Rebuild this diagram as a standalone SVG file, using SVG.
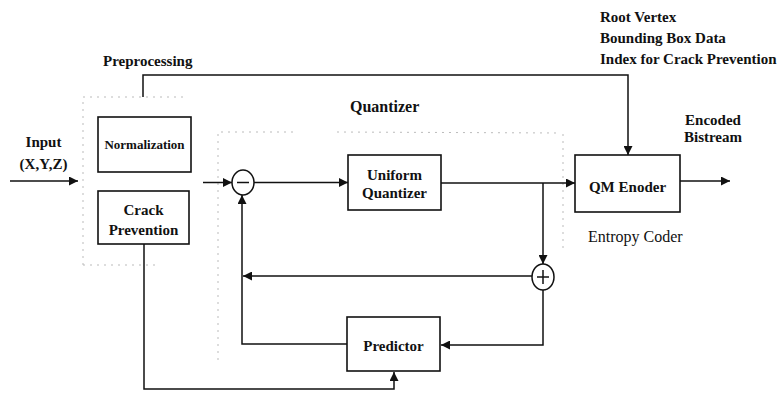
<svg xmlns="http://www.w3.org/2000/svg" width="777" height="404" viewBox="0 0 777 404">
<defs>
<style>
.t{font-family:"Liberation Serif","Times New Roman",serif;font-weight:bold;font-size:15px;fill:#111}
.r{font-weight:normal;font-size:16px}
.box{fill:none;stroke:#111;stroke-width:1.6}
.ln{fill:none;stroke:#111;stroke-width:1.5}
.dot{fill:none;stroke:#bbb;stroke-width:1;stroke-dasharray:2 5}
</style>
<marker id="ah" viewBox="0 0 10 10" refX="10" refY="5" markerWidth="9" markerHeight="9" markerUnits="userSpaceOnUse" orient="auto">
<path d="M0,0 L10,5 L0,10 Z" fill="#111"/>
</marker>
</defs>
<rect width="777" height="404" fill="#fff"/>

<g id="regions">
<path class="dot" d="M83,265 L83,97 L185,97 M83,265 L160,265"/>
<path class="dot" d="M218,360 L218,132 L295,132 M337,132 L560,133 M563,134 L563,250"/>
</g>

<g id="labels">
<text class="t" x="103" y="66">Preprocessing</text>
<text class="t" x="350" y="112" style="font-size:16px">Quantizer</text>
<text class="t" x="43.5" y="147" text-anchor="middle">Input</text>
<text class="t" x="43.5" y="169" text-anchor="middle">(X,Y,Z)</text>
<text class="t" x="600" y="22">Root Vertex</text>
<text class="t" x="600" y="43">Bounding Box Data</text>
<text class="t" x="600" y="64">Index for Crack Prevention</text>
<text class="t" x="713" y="125" text-anchor="middle">Encoded</text>
<text class="t" x="713" y="142" text-anchor="middle">Bistream</text>
<text class="t r" x="588" y="242">Entropy Coder</text>
</g>

<g id="normalization">
<rect class="box" x="98" y="117" width="93" height="55"/>
<text class="t" x="144.5" y="149" text-anchor="middle" style="font-size:13px">Normalization</text>
</g>
<g id="crack-prevention">
<rect class="box" x="98" y="191" width="91" height="53"/>
<text class="t" x="143.5" y="215" text-anchor="middle">Crack</text>
<text class="t" x="143.5" y="235" text-anchor="middle">Prevention</text>
</g>
<g id="minus">
<ellipse class="ln" cx="243" cy="182.5" rx="11" ry="12.5"/>
<line class="ln" x1="237" y1="182.5" x2="249" y2="182.5"/>
</g>
<g id="uniform-quantizer">
<rect class="box" x="348" y="155" width="93" height="55"/>
<text class="t" x="394.5" y="180" text-anchor="middle">Uniform</text>
<text class="t" x="394.5" y="198" text-anchor="middle">Quantizer</text>
</g>
<g id="qm-encoder">
<rect class="box" x="575" y="155" width="105" height="57"/>
<text class="t" x="627.5" y="192" text-anchor="middle">QM Enoder</text>
</g>
<g id="plus">
<ellipse class="ln" cx="543" cy="277" rx="11" ry="13"/>
<line class="ln" x1="537" y1="277" x2="549" y2="277"/>
<line class="ln" x1="543" y1="270" x2="543" y2="284"/>
</g>
<g id="predictor">
<rect class="box" x="347" y="317" width="93" height="54"/>
<text class="t" x="393.5" y="351" text-anchor="middle">Predictor</text>
</g>

<g id="connectors">
<line class="ln" x1="10" y1="181" x2="78" y2="181" marker-end="url(#ah)"/>
<polyline class="ln" points="143,97 143,75 628,75 628,155" marker-end="url(#ah)"/>
<line class="ln" x1="203" y1="182.5" x2="232" y2="182.5" marker-end="url(#ah)"/>
<line class="ln" x1="254" y1="182.5" x2="348" y2="182.5" marker-end="url(#ah)"/>
<line class="ln" x1="441" y1="183" x2="575" y2="183" marker-end="url(#ah)"/>
<line class="ln" x1="680" y1="181" x2="730" y2="181" marker-end="url(#ah)"/>
<line class="ln" x1="543" y1="183" x2="543" y2="264" marker-end="url(#ah)"/>
<line class="ln" x1="532" y1="276" x2="243" y2="276" marker-end="url(#ah)"/>
<polyline class="ln" points="347,344 242,344 242,195" marker-end="url(#ah)"/>
<polyline class="ln" points="543,290 543,345 441,345" marker-end="url(#ah)"/>
<polyline class="ln" points="144,244 144,389 394,389 394,372" marker-end="url(#ah)"/>
</g>
</svg>
